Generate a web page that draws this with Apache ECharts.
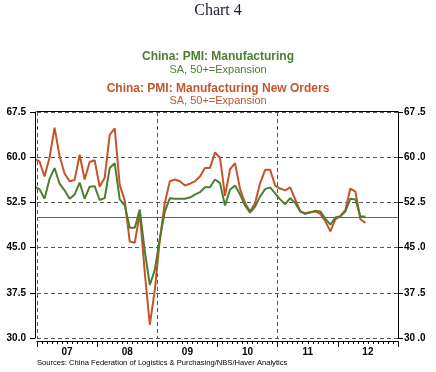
<!DOCTYPE html>
<html>
<head>
<meta charset="utf-8">
<script src="https://cdn.jsdelivr.net/npm/echarts@6/dist/echarts.min.js"></script>
<style>html,body{margin:0;padding:0;background:#fff}#c{width:436px;height:372px}</style>
</head>
<body>
<div id="c"></div>
<script>
// Monthly observations (Dec 2006 .. Jun 2012)
const months = [];
for (let y = 2006; y <= 2012; y++) for (let m = 1; m <= 12; m++) {
  if ((y === 2006 && m < 12) || (y === 2012 && m > 6)) continue;
  months.push(y + '-' + String(m).padStart(2, '0'));
}
const pmiManufacturing = [
  55.1,
  54.7, 53.1, 56.4, 58.2, 55.6, 54.5, 53.1, 53.8, 55.8, 53.1, 55.1, 55.2,
  52.9, 53.2, 58.2, 59.0, 53.0, 52.0, 48.3, 48.3, 51.3, 44.4, 38.8, 41.3,
  46.5, 51.0, 53.2, 53.1, 53.1, 53.1, 53.3, 53.8, 54.2, 55.0, 55.0, 56.3,
  55.7, 52.0, 54.6, 55.3, 53.8, 52.0, 50.8, 51.8, 53.5, 54.7, 55.0, 54.0,
  53.0, 52.2, 53.2, 52.4, 51.0, 50.6, 50.8, 51.1, 51.0, 49.8, 48.8, 50.0,
  50.2, 51.0, 53.1, 53.0, 50.2, 50.1
];
const pmiNewOrders = [
  59.7,
  59.3, 56.8, 59.9, 64.9, 60.2, 57.3, 56.0, 56.2, 60.4, 56.3, 59.2, 59.5,
  55.1, 56.6, 63.7, 64.8, 55.4, 52.8, 46.0, 45.8, 50.7, 40.8, 32.2, 38.0,
  46.3, 52.5, 56.0, 56.3, 56.0, 55.3, 55.6, 56.0, 56.8, 58.2, 58.2, 60.8,
  59.9, 53.6, 58.0, 59.0, 54.7, 52.4, 51.0, 52.4, 55.7, 57.9, 57.9, 55.3,
  54.8, 54.5, 55.0, 53.0, 51.0, 50.7, 50.9, 51.0, 50.6, 49.4, 47.7, 49.7,
  50.2, 51.2, 54.8, 54.3, 49.7, 49.1
];
const yearLabels = ['07', '08', '09', '10', '11', '12'];
const yTicks = [30, 37.5, 45, 52.5, 60, 67.5];
const expansionLine = 50;
const startYear = 2007;

const GREEN = '#4d7d30';
const RED = '#c4552b';
const FONT = 'Liberation Sans, Arial, sans-serif';

function toX(s) {
  const [y, m] = s.split('-').map(Number);
  return (y - startYear) * 12 + (m - 1) + 0.5;
}
const gData = months.map((s, i) => [toX(s), pmiManufacturing[i]]);
const rData = months.map((s, i) => [toX(s), pmiNewOrders[i]]);

const yMin = yTicks[0], yMax = yTicks[yTicks.length - 1], yStep = yTicks[1] - yTicks[0];
const xMax = yearLabels.length * 12;

const chart = echarts.init(document.getElementById('c'), null, {renderer: 'canvas'});
chart.setOption({
  animation: false,
  backgroundColor: '#fff',
  title: [
    {text: 'Chart 4', left: 'center', top: 3, padding: 0, textStyle: {fontFamily: 'Liberation Serif, Times New Roman, serif', fontSize: 16, fontWeight: 'normal', color: '#1c1c30'}},
    {text: 'China: PMI: Manufacturing', left: 'center', top: 51, padding: 0, textStyle: {fontFamily: FONT, fontSize: 12, fontWeight: 'bold', color: GREEN}},
    {text: 'SA, 50+=Expansion', left: 'center', top: 64, padding: 0, textStyle: {fontFamily: FONT, fontSize: 11, fontWeight: 'normal', color: GREEN}},
    {text: 'China: PMI: Manufacturing New Orders', left: 'center', top: 83, padding: 0, textStyle: {fontFamily: FONT, fontSize: 12, fontWeight: 'bold', color: RED}},
    {text: 'SA, 50+=Expansion', left: 'center', top: 95, padding: 0, textStyle: {fontFamily: FONT, fontSize: 11, fontWeight: 'normal', color: RED}}
  ],
  graphic: [
    {type: 'text', left: 37, top: 359, style: {text: 'Sources: China Federation of Logistics & Purchasing/NBS/Haver Analytics', font: '7.6px ' + FONT, fill: '#000'}}
  ],
  grid: {left: 37, right: 38, top: 112, bottom: 34, containLabel: false},
  xAxis: [
    {type: 'value', min: 0, max: xMax, interval: 12, position: 'bottom', offset: 3,
     axisLine: {show: true, onZero: false, lineStyle: {color: '#000', width: 1}},
     axisTick: {show: true, length: 6, lineStyle: {color: '#000'}},
     minorTick: {show: true, splitNumber: 12, length: 3, lineStyle: {color: '#000'}},
     axisLabel: {show: false}, splitLine: {show: false}},
    {type: 'value', min: 0, max: xMax, interval: 6, position: 'bottom', offset: 3,
     axisLine: {show: false}, axisTick: {show: false},
     axisLabel: {show: true, margin: 6, fontFamily: FONT, fontSize: 10, fontWeight: 'bold', color: '#000',
       formatter: v => ((v / 6) % 2 === 1 ? yearLabels[(v - 6) / 12] : '')},
     splitLine: {show: false}},
    {type: 'value', min: 0, max: xMax, interval: 24, position: 'bottom',
     axisLine: {show: false}, axisTick: {show: false}, axisLabel: {show: false},
     splitLine: {show: true, lineStyle: {color: '#555', width: 1, type: [4, 3]}}},
    {type: 'value', min: 0, max: xMax, position: 'top', offset: 1,
     axisLine: {show: true, onZero: false, lineStyle: {color: '#000', width: 1}},
     axisTick: {show: false}, axisLabel: {show: false}, splitLine: {show: false}}
  ],
  yAxis: [
    {type: 'value', min: yMin, max: yMax, interval: yStep, position: 'left', offset: 2,
     axisLine: {show: true, onZero: false, lineStyle: {color: '#000', width: 1}},
     axisTick: {show: true, length: 5, lineStyle: {color: '#000'}},
     axisLabel: {margin: 9, fontFamily: FONT, fontSize: 10, fontWeight: 'bold', color: '#000', formatter: v => v.toFixed(1)},
     splitLine: {show: true, lineStyle: {color: '#555', width: 1, type: [4, 3]}}},
    {type: 'value', min: yMin, max: yMax, interval: yStep, position: 'right', offset: 0,
     axisLine: {show: true, onZero: false, lineStyle: {color: '#000', width: 1}},
     axisTick: {show: true, length: 5, lineStyle: {color: '#000'}},
     axisLabel: {margin: 6, fontFamily: FONT, fontSize: 10, fontWeight: 'bold', color: '#000', formatter: v => v.toFixed(1).replace('.', '\u2009.')},
     splitLine: {show: false}}
  ],
  series: [
    {name: 'China: PMI: Manufacturing New Orders', type: 'line', data: rData, xAxisIndex: 0, yAxisIndex: 0,
     showSymbol: false, clip: true, lineStyle: {color: RED, width: 2}, itemStyle: {color: RED}},
    {name: 'China: PMI: Manufacturing', type: 'line', data: gData, xAxisIndex: 0, yAxisIndex: 0,
     showSymbol: false, clip: true, lineStyle: {color: GREEN, width: 2}, itemStyle: {color: GREEN},
     markLine: {silent: true, symbol: ['none', 'none'], label: {show: false},
       lineStyle: {color: GREEN, width: 1, type: 'solid'}, data: [{yAxis: expansionLine}]}}
  ]
});
</script>
</body>
</html>
